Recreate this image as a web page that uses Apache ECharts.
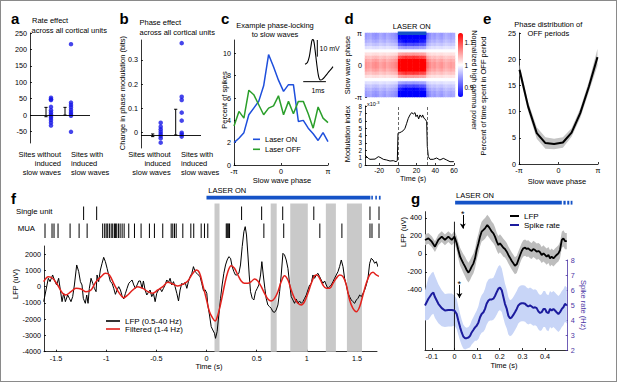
<!DOCTYPE html>
<html><head><meta charset="utf-8"><title>chart</title>
<script src="https://cdn.jsdelivr.net/npm/echarts@6.0.0/dist/echarts.min.js"></script>
<style>
html,body{margin:0;padding:0;background:#fff;overflow:hidden}
#chart{position:absolute;left:0;top:0;width:617px;height:382px}
#frame{position:absolute;left:0;top:0;width:617px;height:382px;box-sizing:border-box;border:1px solid #8a8a8a;pointer-events:none}
</style></head><body>
<div id="chart"></div><div id="frame"></div>
<script>
const FONT = '"Liberation Sans", Arial, Helvetica, sans-serif';
const PI = Math.PI;

// ---------- panel a : rate effect ----------
const aGroup1 = [53, 48, 46, 25, 15, 8, 2, -3, -8, -15, -23, -32];
const aGroup2 = [216, 38, 31, 24, 16, 9, 3, -2, -51];
const aErr = [[-5, 23.5], [0, 23.5]];
const aTicks = [-50, 0, 50, 100, 150, 200, 250];
const aRef = 0;

// ---------- panel b : phase effect ----------
const bGroup1 = [0.040, 0.024, 0.013, 0.003, -0.006, -0.014, -0.024, -0.042];
const bGroup2 = [0.369, 0.148, 0.134, 0.082, 0.049, -0.001, -0.008, -0.017];
const bErr = [[-0.017, -0.006], [-0.01, 0.096]];
const bTicks = [0, 0.1, 0.2, 0.3];
const bRef = -0.01;

// ---------- panel c : phase locking ----------
const cPhase = [-3.14,-2.81,-2.48,-2.15,-1.82,-1.49,-1.16,-0.83,-0.50,-0.17,0.17,0.50,0.83,1.16,1.49,1.82,2.15,2.48,2.81,3.14];
const cLaserOn  = [2.0, 2.4, 2.9, 4.5, 5.1, 5.7, 7.1, 9.9, 8.8, 7.6, 6.6, 7.2, 7.2, 3.9, 4.0, 3.3, 2.8, 2.2, 2.9, 2.1];
const cLaserOff = [3.5, 4.8, 4.2, 6.7, 6.3, 5.4, 4.5, 5.1, 5.3, 6.2, 4.5, 5.7, 4.6, 5.7, 5.7, 4.6, 3.3, 5.2, 4.2, 3.8];
const cTicksY = [0, 2, 4, 6, 8, 10];
const spikeWave = [[0.09,0.2],[0.2,1.5],[0.28,5],[0.35,11],[0.42,15],[0.47,14.5],[0.53,9],[0.6,1],[0.66,-5],[0.72,-8.5],[0.78,-9.2],[0.85,-8.8],[0.95,-7.5],[1.05,-5.8],[1.15,-4],[1.25,-2.5],[1.32,-1.2]];
const scaleBarMV = [[0.63,14.8],[0.63,4.8]];   // 10 mV
const scaleBarMS = [[0.01,-10.2],[1.01,-10.2]]; // 1 ms

// ---------- panel d : heatmap + modulation index ----------
const heatAmp = [0.06,0.055,0.05,0.06,0.065,0.06,0.05,0.055,0.06,0.05,0.055,0.06,0.065,0.07,
                 0.16,0.17,0.18,0.19,0.18,0.18,0.19,0.18,0.18,0.17,0.17,0.16,
                 0.08,0.065,0.055,0.06,0.05,0.055,0.06,0.05,0.045,0.05,0.055,0.05];
const phaseProfile = [-0.95,-0.9,-0.75,-0.55,-0.3,-0.02,0.3,0.6,0.85,1.0,1.0,0.85,0.6,0.3,-0.02,-0.3,-0.55,-0.75,-0.9,-0.95];
const dModIndex = [[-35,1.36],[-31.4,0.9],[-29.7,0.77],[-24.3,0.8],[-20.8,1.13],[-19,1.04],[-15.4,0.77],[-11.9,0.68],[-8.3,0.54],[-4.8,0.59],[-1.9,0.45],[-0.5,0.6],[0.2,4.3],[2.3,4.39],[4.1,4.52],[5.9,4.66],[7.7,4.98],[9.5,5.66],[11.2,6.33],[13.0,6.79],[14.8,7.1],[16.6,6.92],[18.4,7.1],[19.4,6.56],[20.8,6.79],[22.3,6.25],[23.7,6.79],[25.5,6.47],[26.5,6.79],[28.0,6.33],[29.4,6.2],[30.8,5.88],[31.5,2.49],[32.6,1.13],[34.4,0.77],[37.9,0.77],[41.5,0.95],[45.0,0.68],[48.6,0.9],[52.2,0.68],[55.7,0.45],[59.3,0.45],[60,0.5]];
const dLaserMarks = [0, 31];
const dLaser = [[0, 30.5]];
const dTicksX = [-20, 0, 20, 40, 60];
const dTicksY = [0,1,2,3,4,5,6,7,8];
const colorTicks = [0.9, 1, 1.1];

// ---------- panel e : OFF period phase distribution ----------
const eData = [[-3.1,18.0,1.0],[-2.42,11.0,0.9],[-1.73,5.9,1.1],[-1.04,4.0,1.1],[-0.35,3.8,1.0],[0.35,4.1,1.0],[1.04,6.0,0.8],[1.73,9.7,0.9],[2.42,14.8,1.0],[3.1,20.4,1.6]];
const eTicksY = [0, 5, 10, 15, 20, 25];

// ---------- panel f : example trace ----------
const fLfp = [[-1.623,-923],[-1.600,-205],[-1.577,513],[-1.560,308],[-1.534,718],[-1.510,308],[-1.494,103],[-1.474,513],[-1.457,-205],[-1.440,-923],[-1.424,-410],[-1.407,-923],[-1.384,-513],[-1.367,-718],[-1.351,-923],[-1.334,-615],[-1.317,103],[-1.294,1333],[-1.274,923],[-1.257,308],[-1.241,103],[-1.228,-718],[-1.208,-1025],[-1.194,-513],[-1.181,-1025],[-1.168,-103],[-1.151,513],[-1.134,205],[-1.118,-103],[-1.101,-308],[-1.091,718],[-1.075,308],[-1.058,1025],[-1.041,1435],[-1.025,1804],[-1.008,1538],[-0.991,1128],[-0.975,718],[-0.958,308],[-0.941,205],[-0.925,-103],[-0.908,-472],[-0.892,-205],[-0.875,0],[-0.858,-205],[-0.842,-554],[-0.825,-759],[-0.808,-410],[-0.792,-103],[-0.775,205],[-0.758,308],[-0.742,410],[-0.725,103],[-0.709,-103],[-0.692,103],[-0.675,349],[-0.659,349],[-0.642,-103],[-0.629,349],[-0.612,-205],[-0.595,-513],[-0.579,-349],[-0.562,-205],[-0.546,-615],[-0.529,-410],[-0.512,-923],[-0.496,-410],[-0.479,-205],[-0.462,-103],[-0.446,-308],[-0.429,-103],[-0.413,103],[-0.396,410],[-0.379,267],[-0.363,513],[-0.346,103],[-0.329,308],[-0.313,0],[-0.296,-410],[-0.279,-882],[-0.263,-205],[-0.246,205],[-0.230,103],[-0.213,267],[-0.196,-103],[-0.180,308],[-0.163,615],[-0.146,820],[-0.130,1230],[-0.113,923],[-0.096,820],[-0.080,718],[-0.063,600],[-0.047,200],[-0.030,-250],[-0.013,-200],[0.003,-410],[0.013,-1128],[0.030,-1743],[0.047,-2460],[0.063,-2665],[0.080,-2870],[0.090,-3178],[0.106,-2768],[0.123,-1743],[0.140,-718],[0.156,103],[0.173,820],[0.190,1333],[0.206,1640],[0.223,1845],[0.240,1743],[0.256,1230],[0.273,923],[0.289,718],[0.306,718],[0.323,820],[0.339,1333],[0.356,2460],[0.373,3383],[0.386,3690],[0.399,3178],[0.413,1948],[0.426,718],[0.439,-308],[0.456,-718],[0.472,-820],[0.489,-308],[0.506,-103],[0.522,103],[0.539,718],[0.552,1538],[0.566,718],[0.582,-103],[0.595,-718],[0.612,-1128],[0.629,-1230],[0.645,-1333],[0.662,-1538],[0.679,-1579],[0.695,-1435],[0.712,-1128],[0.729,-308],[0.745,718],[0.762,2050],[0.778,1948],[0.795,1640],[0.812,1128],[0.828,205],[0.845,-615],[0.862,-820],[0.878,-1025],[0.895,-759],[0.912,-1025],[0.928,-882],[0.945,-1025],[0.961,-923],[0.978,-718],[0.995,-513],[1.011,-205],[1.028,103],[1.045,205],[1.061,718],[1.078,513],[1.094,718],[1.111,820],[1.128,615],[1.144,410],[1.161,205],[1.178,349],[1.194,103],[1.211,-103],[1.228,0],[1.244,103],[1.261,308],[1.277,513],[1.294,718],[1.311,923],[1.327,1230],[1.344,1640],[1.361,1230],[1.377,513],[1.394,103],[1.411,-410],[1.427,-615],[1.444,-820],[1.460,-923],[1.477,-1025],[1.494,-820],[1.510,-718],[1.527,-513],[1.544,-615],[1.560,-410],[1.577,-205],[1.593,103],[1.610,513],[1.627,1435],[1.643,1743],[1.660,1640],[1.677,1435],[1.693,1538],[1.710,1230],[1.727,1435],[1.743,1128],[1.760,923],[1.770,718]];
const fFiltered = [[-1.623,308],[-1.577,615],[-1.534,513],[-1.484,103],[-1.434,-410],[-1.401,-513],[-1.351,-308],[-1.301,-103],[-1.251,-144],[-1.201,-308],[-1.151,-205],[-1.101,308],[-1.051,615],[-1.008,820],[-0.968,718],[-0.918,103],[-0.868,-410],[-0.825,-677],[-0.785,-513],[-0.735,-205],[-0.685,0],[-0.635,-103],[-0.585,-308],[-0.536,-410],[-0.486,-205],[-0.436,0],[-0.386,267],[-0.336,164],[-0.286,41],[-0.236,144],[-0.186,349],[-0.136,820],[-0.103,1025],[-0.070,850],[-0.037,103],[-0.003,-718],[0.030,-1538],[0.063,-1948],[0.086,-2112],[0.113,-1743],[0.146,-923],[0.180,103],[0.213,923],[0.246,1292],[0.279,1128],[0.313,718],[0.346,349],[0.379,205],[0.413,205],[0.446,308],[0.479,472],[0.512,349],[0.546,0],[0.579,-410],[0.612,-759],[0.645,-882],[0.679,-718],[0.712,-308],[0.745,308],[0.778,677],[0.812,410],[0.845,-205],[0.878,-718],[0.912,-1025],[0.945,-1128],[0.978,-923],[1.011,-410],[1.045,205],[1.078,677],[1.101,718],[1.128,513],[1.161,103],[1.194,-103],[1.228,-103],[1.261,205],[1.294,513],[1.327,718],[1.361,615],[1.394,103],[1.427,-820],[1.460,-1333],[1.494,-1538],[1.527,-1230],[1.560,-513],[1.593,205],[1.627,718],[1.660,882],[1.693,718],[1.727,615],[1.760,472]];
const fSingleUnit = [-1.225,-1.095,0.35,0.55,0.76,1.07,1.63,1.72];
const fMUA = [-1.61,-1.54,-1.52,-1.48,-1.36,-1.27,-1.19,-1.035,-1.015,-1.0,-0.985,-0.968,-0.95,-0.935,-0.918,-0.908,-0.895,-0.878,-0.861,-0.841,-0.821,-0.775,-0.718,-0.652,-0.569,-0.519,-0.436,-0.352,-0.336,-0.319,-0.302,-0.236,-0.156,-0.127,-0.053,-0.02,0.013,0.197,0.205,0.213,0.222,0.23,0.572,0.77,1.13,1.35,1.63,1.65,1.72];
const fOffPeriods = [[0.08,0.13],[0.64,0.70],[0.835,1.01],[1.19,1.29],[1.40,1.55]];
const fLaser = [[0,1.634],[1.643,1.659],[1.683,1.699],[1.719,1.736]];
const fTicksX = [-1.5,-1,-0.5,0,0.5,1,1.5];
const fTicksY = [-4000,-3000,-2000,-1000,0,1000,2000];

// ---------- panel g : laser-onset average ----------
const gLfp = [[-0.130,156,60],[-0.115,174,60],[-0.100,137,60],[-0.086,81,60],[-0.071,156,60],[-0.056,193,60],[-0.042,156,60],[-0.027,193,60],[-0.012,156,60],[0.000,193,65],
[0.010,119,80],[0.017,44,90],[0.025,-30,100],[0.032,-67,100],[0.039,-104,105],[0.047,-141,110],[0.054,-178,110],[0.062,-207,110],[0.069,-178,110],[0.076,-141,110],[0.084,-104,110],[0.091,-48,110],[0.098,44,110],[0.106,119,110],[0.113,193,110],[0.120,248,110],[0.128,267,115],[0.135,285,115],
[0.145,322,115],[0.154,293,115],
[0.165,248,110],[0.172,230,110],[0.179,193,105],[0.187,137,100],[0.194,100,100],[0.201,119,100],[0.209,93,100],[0.216,70,100],[0.223,56,95],[0.231,26,95],[0.238,-11,95],[0.245,-41,95],[0.253,-78,95],[0.260,-104,95],[0.267,-130,95],[0.275,-115,95],[0.282,-67,95],[0.290,-11,90],[0.297,33,90],[0.304,63,90],[0.312,70,90],[0.319,56,90],[0.326,63,90],[0.334,44,90],[0.341,33,90],[0.348,56,90],[0.356,44,90],[0.363,26,90],[0.371,33,90],[0.378,19,90],[0.385,-11,90],[0.393,7,90],[0.400,-11,90],[0.407,-30,90],[0.415,-11,90],[0.422,-48,90],[0.429,-30,90],[0.437,-48,90],[0.444,-30,90],[0.451,-11,90],[0.459,7,90],[0.466,44,90],[0.474,156,90],[0.481,174,90],[0.488,144,90],[0.496,144,90]];
const gSpike = [[-0.130,4.97,1.0],[-0.115,5.42,1.4],[-0.100,5.75,1.4],[-0.093,5.82,1.4],[-0.086,5.53,1.4],[-0.071,5.08,1.3],[-0.056,4.79,1.2],[-0.042,4.63,1.1],[-0.027,4.67,1.1],[-0.012,4.67,1.1],[0.000,4.63,1.0],
[0.010,4.40,1.0],[0.017,3.96,0.95],[0.025,3.51,0.9],[0.032,3.17,0.85],[0.039,2.90,0.8],[0.047,2.79,0.75],[0.054,2.79,0.7],[0.062,2.83,0.7],[0.069,2.94,0.75],[0.076,3.17,0.8],[0.084,3.35,0.85],[0.091,3.51,0.9],[0.098,3.62,1.0],[0.106,3.84,1.1],[0.113,4.18,1.2],[0.120,4.40,1.25],[0.128,4.52,1.3],[0.135,4.74,1.35],[0.142,5.08,1.4],[0.150,5.30,1.4],[0.157,5.37,1.4],[0.165,5.37,1.4],[0.172,5.42,1.4],[0.179,5.60,1.45],[0.187,5.87,1.5],[0.194,6.09,1.5],[0.201,6.16,1.5],[0.209,5.98,1.45],[0.216,5.53,1.4],[0.223,5.08,1.35],[0.231,4.74,1.3],[0.238,4.29,1.25],[0.245,4.11,1.2],[0.253,4.18,1.2],[0.260,4.34,1.2],[0.267,4.52,1.2],[0.275,4.74,1.2],[0.282,4.97,1.2],[0.290,5.08,1.2],[0.297,5.12,1.2],[0.304,5.12,1.2],[0.312,5.08,1.2],[0.319,4.97,1.2],[0.326,4.90,1.2],[0.334,4.97,1.2],[0.341,4.90,1.2],[0.348,4.81,1.2],[0.356,4.85,1.2],[0.363,4.79,1.2],[0.371,4.56,1.2],[0.378,4.47,1.2],[0.385,4.52,1.2],[0.393,4.74,1.2],[0.400,4.74,1.2],[0.407,4.52,1.2],[0.415,4.45,1.2],[0.422,4.74,1.2],[0.429,4.63,1.2],[0.437,4.74,1.2],[0.444,4.63,1.2],[0.451,4.52,1.2],[0.459,4.40,1.2],[0.466,4.52,1.2],[0.474,4.74,1.2],[0.481,4.85,1.2],[0.488,5.08,1.2],[0.496,4.97,1.2]];
const gLaser = [[0.003,0.474],[0.481,0.491],[0.498,0.507],[0.513,0.521]];
const gArrowLfp = [[0.037,433],[0.037,282]];
const gArrowRate = [[0.022,-344],[0.022,-490]];
const gOnsetLine = [[0,359],[0,-1067]];
const gTicksX = [-0.1,0,0.1,0.2,0.3,0.4];
const gTicksY = [-400,-200,0,200,400];
const gTicksRate = [2,3,4,5,6,7,8];

// ================= build =================
const chart = echarts.init(document.getElementById('chart'), null, {renderer:'svg', width:617, height:382});
const grids=[], xAxes=[], yAxes=[], series=[], gfx=[];
const BLUEBAR='#1553c7', DOT='#1717e6', PURPLE='#4b35a5';

function grid(l,t,w,h){grids.push({left:l,top:t,width:w,height:h,containLabel:false,outerBoundsMode:'none'});return grids.length-1;}
function axis(dim, gi, min, max, o){
  o=o||{};
  const col=o.color||'#000';
  const a={type:o.type||'value', gridIndex:gi, show:!o.hidden, position:o.position||(dim==='x'?'bottom':'left'),
    axisLine:{show:o.line!==false, onZero:false, lineStyle:{color:col,width:0.8}},
    axisTick:{show:!!o.ticks, inside:true, length:2, lineStyle:{color:col,width:0.8}},
    axisLabel:{show:!!o.ticks, fontSize:o.fs||7.2, color:col, fontFamily:FONT, margin:o.margin!=null?o.margin:3, formatter:o.fmt||(v=>String(v))},
    splitLine:{show:false}, splitArea:{show:false}, axisPointer:{show:false}};
  if(a.type==='value'){a.min=min;a.max=max;}
  if(o.data) a.data=o.data;
  if(o.ticks){a.axisTick.customValues=o.ticks;a.axisLabel.customValues=o.ticks;}
  const arr = dim==='x'?xAxes:yAxes; arr.push(a); return arr.length-1;
}
const piFmt = v => Math.abs(v)<1e-9 ? '0' : (v<0 ? '-π' : 'π');
function T(x,y,text,o){o=o||{};return {type:'text',x:x,y:y,rotation:o.rot||0,silent:true,z:100,
  style:{text:text,fill:o.color||'#000',fontSize:o.fs||7.5,fontFamily:FONT,fontWeight:o.bold?'bold':'normal',align:o.align||'left',verticalAlign:'middle',rich:o.rich}};}

function errRender(params, api){
  const x=api.value(0), p0=api.coord([x,api.value(1)]), p1=api.coord([x,api.value(2)]), c=1.6;
  const st={stroke:'#000', lineWidth:1};
  return {type:'group', children:[
    {type:'line', shape:{x1:p0[0],y1:p0[1],x2:p1[0],y2:p1[1]}, style:st},
    {type:'line', shape:{x1:p0[0]-c,y1:p0[1],x2:p0[0]+c,y2:p0[1]}, style:st},
    {type:'line', shape:{x1:p1[0]-c,y1:p1[1],x2:p1[0]+c,y2:p1[1]}, style:st}]};
}
function spanRender(yTop, yBottom, color){
  return function(params, api){
    const x0=api.coord([api.value(0),0])[0], x1=api.coord([api.value(1),0])[0];
    const cs=params.coordSys; const yb = yBottom==null ? cs.y+cs.height : yBottom;
    return {type:'rect', shape:{x:x0,y:yTop,width:Math.max(x1-x0,0.5),height:yb-yTop}, style:{fill:color}};
  };
}
function tickRender(y0,y1){
  return function(params, api){
    const x=api.coord([api.value(0),0])[0];
    return {type:'line', shape:{x1:x,y1:y0,x2:x,y2:y1}, style:{stroke:'#000', lineWidth:1}};
  };
}
// shaded mean +/- sem band drawn as one polygon through the axes' scales
function bandS(xi, yi, rows, color){
  return {type:'custom', xAxisIndex:xi, yAxisIndex:yi, data:rows, encode:{x:0,y:1}, clip:false, silent:true, animation:false, z:1,
    renderItem:function(params, api){
      if(params.dataIndex!==0) return null;
      const up = rows.map(r=>api.coord([r[0], r[1]+r[2]]));
      const lo = rows.map(r=>api.coord([r[0], r[1]-r[2]])).reverse();
      return {type:'polygon', shape:{points:up.concat(lo)}, style:{fill:color}};
    }};
}
function lineS(xi, yi, data, color, width, extra){
  return Object.assign({type:'line', xAxisIndex:xi, yAxisIndex:yi, data:data, color:color, showSymbol:false, symbol:'none',
    lineStyle:{color:color, width:width}, animation:false, silent:true, z:3}, extra||{});
}
const refLine = v => ({silent:true, animation:false, symbol:['none','none'], label:{show:false}, lineStyle:{color:'#000', width:0.9, type:'solid'}, data:[{yAxis:v}]});

// ---- a ----
const gA = grid(30,33,60,110);
const xA = axis('x', gA, 0, 60, {hidden:true});
const yA = axis('y', gA, -85, 250, {ticks:aTicks});
series.push({type:'scatter', xAxisIndex:xA, yAxisIndex:yA, symbolSize:4.5, itemStyle:{color:DOT}, silent:true, animation:false, z:3,
  data: aGroup1.map(v=>[21,v]).concat(aGroup2.map(v=>[41,v])), markLine: refLine(aRef)});
series.push({type:'custom', xAxisIndex:xA, yAxisIndex:yA, renderItem:errRender, clip:false, silent:true, animation:false, z:4,
  data:[[16,aErr[0][0],aErr[0][1]],[35,aErr[1][0],aErr[1][1]]]});

// ---- b ----
const gB = grid(141,40,60,108);
const xB = axis('x', gB, 0, 60, {hidden:true});
const yB = axis('y', gB, -0.064, 0.382, {ticks:bTicks});
series.push({type:'scatter', xAxisIndex:xB, yAxisIndex:yB, symbolSize:4.5, itemStyle:{color:DOT}, silent:true, animation:false, z:3,
  data: bGroup1.map(v=>[19.7,v]).concat(bGroup2.map(v=>[40.7,v])), markLine: refLine(bRef)});
series.push({type:'custom', xAxisIndex:xB, yAxisIndex:yB, renderItem:errRender, clip:false, silent:true, animation:false, z:4,
  data:[[11.7,bErr[0][0],bErr[0][1]],[34.7,bErr[1][0],bErr[1][1]]]});

// ---- c ----
const gC = grid(234,40,94,125);
const xC = axis('x', gC, -PI, PI, {ticks:[-PI,0,PI], fmt:piFmt});
const yC = axis('y', gC, 0, 11.2, {ticks:cTicksY});
series.push(lineS(xC, yC, cPhase.map((p,i)=>[p,cLaserOn[i]]), '#1e4fdc', 1.5, {name:'Laser ON'}));
series.push(lineS(xC, yC, cPhase.map((p,i)=>[p,cLaserOff[i]]), '#2b9f2b', 1.5, {name:'Laser OFF'}));
const gCi = grid(303,38,31,45);
const xCi = axis('x', gCi, 0, 1.366, {hidden:true});
const yCi = axis('y', gCi, -11, 16, {hidden:true});
series.push(lineS(xCi, yCi, spikeWave, '#000', 1.1, {smooth:0.4, clip:false}));
series.push(lineS(xCi, yCi, scaleBarMV, '#000', 1, {clip:false}));
series.push(lineS(xCi, yCi, scaleBarMS, '#000', 1, {clip:false}));

// ---- d ----
const gDh = grid(365,33,90,64);
const xDh = axis('x', gDh, null, null, {type:'category', hidden:true, data:heatAmp.map((_,i)=>String(i))});
const yDh = axis('y', gDh, null, null, {type:'category', hidden:true, data:phaseProfile.map((_,i)=>String(i))});
const yDhv = axis('y', gDh, -PI, PI, {ticks:[-PI,0,PI], fmt:piFmt, line:false});
const heatData = [];
heatAmp.forEach((a,i)=>phaseProfile.forEach((p,j)=>heatData.push([i,j,1+a*p])));
const heatIdx = series.length;
series.push({type:'heatmap', xAxisIndex:xDh, yAxisIndex:yDh, data:heatData, silent:true, animation:false, progressive:0, itemStyle:{borderWidth:0}, emphasis:{disabled:true}, z:1});
const gDc = grid(458,33,5,64);
axis('x', gDc, 0, 1, {hidden:true});
axis('y', gDc, 0.86, 1.14, {ticks:colorTicks, line:false, position:'right', margin:1.5, fs:6.5});
const gDl = grid(365,106,89,59);
const xDl = axis('x', gDl, -35, 60, {ticks:dTicksX, fs:6.8, margin:2});
const yDl = axis('y', gDl, 0, 8, {ticks:dTicksY, fs:6.3});
series.push(lineS(xDl, yDl, dModIndex, '#000', 1, {markLine:{silent:true, animation:false, symbol:['none','none'], label:{show:false},
  lineStyle:{color:'#444', width:0.8, type:[3,2]}, data:dLaserMarks.map(v=>({xAxis:v}))}}));
const gDb = grid(365,30,89,6);
const xDb = axis('x', gDb, -35, 60, {hidden:true});
const yDb = axis('y', gDb, 0, 1, {hidden:true});
series.push({type:'custom', xAxisIndex:xDb, yAxisIndex:yDb, renderItem:spanRender(31.5,35,BLUEBAR), clip:false, silent:true, animation:false, z:5, data:dLaser});

// ---- e ----
const gE = grid(519,33,79,131);
const xE = axis('x', gE, -PI, PI, {ticks:[-PI,0,PI], fmt:piFmt});
const yE = axis('y', gE, 0, 25, {ticks:eTicksY});
series.push(bandS(xE, yE, eData, '#c4c4c4'));
series.push(lineS(xE, yE, eData.map(r=>[r[0],r[1]]), '#000', 2));

// ---- f ----
const gFo = grid(44,190,333,161.7);
const xFo = axis('x', gFo, -1.62, 1.7, {hidden:true});
const yFo = axis('y', gFo, 0, 1, {hidden:true});
series.push({type:'custom', xAxisIndex:xFo, yAxisIndex:yFo, renderItem:spanRender(203.5,null,'#c9c9c9'), clip:false, silent:true, animation:false, z:1, data:fOffPeriods});
series.push({type:'custom', xAxisIndex:xFo, yAxisIndex:yFo, renderItem:spanRender(195.8,199.6,BLUEBAR), clip:false, silent:true, animation:false, z:5, data:fLaser});
series.push({type:'custom', xAxisIndex:xFo, yAxisIndex:yFo, renderItem:tickRender(206.5,220), clip:false, silent:true, animation:false, z:4, data:fSingleUnit.map(t=>[t,0])});
series.push({type:'custom', xAxisIndex:xFo, yAxisIndex:yFo, renderItem:tickRender(223.5,238), clip:false, silent:true, animation:false, z:4, data:fMUA.map(t=>[t,0])});
const gF = grid(44,246,333,105.7);
const xF = axis('x', gF, -1.62, 1.7, {ticks:fTicksX});
const yF = axis('y', gF, -4000, 2500, {ticks:fTicksY});
series.push(lineS(xF, yF, fLfp, '#000', 1, {name:'LFP (0.5-40 Hz)', clip:false}));
series.push(lineS(xF, yF, fFiltered, '#e3211c', 1.5, {name:'Filtered (1-4 Hz)', smooth:0.35, clip:false}));

// ---- g ----
const gGo = grid(425,195,142.7,155);
const xGo = axis('x', gGo, -0.13, 0.5, {hidden:true});
const yGo = axis('y', gGo, 0, 1, {hidden:true});
series.push({type:'custom', xAxisIndex:xGo, yAxisIndex:yGo, renderItem:spanRender(200.8,204.6,BLUEBAR), clip:false, silent:true, animation:false, z:5, data:gLaser});
const gG = grid(425,211.7,142.7,138.3);
const xG = axis('x', gG, -0.13, 0.5, {ticks:gTicksX});
const yG = axis('y', gG, -1067, 470, {ticks:gTicksY});
series.push(bandS(xG, yG, gLfp, '#bdbdbd'));
series.push(lineS(xG, yG, gOnsetLine, '#000', 0.9, {z:2}));
series.push(lineS(xG, yG, gLfp.map(r=>[r[0],r[1]]), '#000', 1.8, {name:'LFP',
  markLine:{silent:true, animation:false, symbol:['none','arrow'], symbolSize:[4.5,5], label:{show:false}, lineStyle:{color:'#000', width:1, type:'solid'},
    data:[[{coord:gArrowLfp[0]},{coord:gArrowLfp[1]}],[{coord:gArrowRate[0]},{coord:gArrowRate[1]}]]}}));
const gGs = grid(425,260,142.7,90);
const xGs = axis('x', gGs, -0.13, 0.5, {hidden:true});
const yGs = axis('y', gGs, 2, 8, {ticks:gTicksRate, position:'right', color:PURPLE});
series.push(bandS(xGs, yGs, gSpike, '#c8d5f7'));
series.push(lineS(xGs, yGs, gSpike.map(r=>[r[0],r[1]]), '#1c1c9e', 2, {name:'Spike rate'}));

// ---- texts ----
const L = 15;
gfx.push(T(11,18.2,'a',{bold:true,fs:L}), T(119.5,18.8,'b',{bold:true,fs:L}), T(221,18.2,'c',{bold:true,fs:L}),
  T(344.5,18.8,'d',{bold:true,fs:L}), T(483,18.8,'e',{bold:true,fs:L}), T(11,198.2,'f',{bold:true,fs:L}), T(411,198.3,'g',{bold:true,fs:L}));
gfx.push(T(32,20.7,'Rate effect'), T(31.5,30,'across all cortical units'));
gfx.push(T(61,154,'Sites without',{align:'right'}), T(61,163.3,'induced',{align:'right'}), T(61,172.7,'slow waves',{align:'right'}));
gfx.push(T(71,154,'Sites with'), T(71,163.3,'induced'), T(71,172.7,'slow waves'));
gfx.push(T(139.5,22.7,'Phase effect'), T(139.5,32.5,'across all cortical units'));
gfx.push(T(170.7,154,'Sites without',{align:'right'}), T(170.7,163.3,'induced',{align:'right'}), T(170.7,172.7,'slow waves',{align:'right'}));
gfx.push(T(181,154,'Sites with'), T(181,163.3,'induced'), T(181,172.7,'slow waves'));
gfx.push(T(122.7,93,'Change in phase modulation (bits)',{rot:PI/2,align:'center'}));
gfx.push(T(275,25,'Example phase-locking',{align:'center'}), T(275,34.3,'to slow waves',{align:'center'}));
gfx.push(T(224.5,100,'Percent of spikes',{rot:PI/2,align:'center'}), T(282,180,'Slow wave phase',{align:'center'}));
gfx.push(T(319.5,48.3,'10 mV',{fs:7}), T(318,90,'1ms',{fs:7,align:'center'}));
gfx.push(T(411.7,26.7,'LASER ON',{align:'center'}));
gfx.push(T(347,65,'Slow wave phase',{rot:PI/2,align:'center'}), T(347,134,'Modulation index',{rot:PI/2,align:'center'}));
gfx.push(T(413,178.8,'Time (s)',{align:'center',fs:7.2}), T(474.5,80,'Normalized high gamma power',{rot:-PI/2,align:'center',fs:7.2}));
gfx.push(T(367,104,'{a|x10}{b|-3}',{rich:{a:{fontSize:5.5,fontFamily:FONT},b:{fontSize:4,fontFamily:FONT,padding:[0,0,4,0]}}}));
gfx.push(T(548.3,24,'Phase distribution of',{align:'center'}), T(548.3,33.3,'OFF periods',{align:'center'}));
gfx.push(T(483.5,96,'Percent of time spent in OFF period',{rot:PI/2,align:'center'}), T(557,181.5,'Slow wave phase',{align:'center'}));
gfx.push(T(16,211.7,'Single unit',{fs:7.8}), T(17.7,228.3,'MUA',{fs:7.8}), T(208.3,190.7,'LASER ON'));
gfx.push(T(15,284,'LFP (uV)',{rot:PI/2,align:'center'}), T(209,366,'Time (s)',{align:'center'}));
gfx.push(T(456,195.3,'LASER ON'), T(403.5,232,'LFP (uV)',{rot:PI/2,align:'center'}), T(504,365.7,'Time (s)',{align:'center'}));
gfx.push(T(583,305,'Spike rate (Hz)',{rot:-PI/2,align:'center',color:PURPLE}));
gfx.push(T(462.7,213.5,'*',{fs:9,align:'center'}), T(459.3,283.5,'*',{fs:9,align:'center'}));

const legendBase = {orient:'vertical', icon:'rect', padding:0, selectedMode:false, itemGap:0};
chart.setOption({
  animation:false,
  backgroundColor:'#fff',
  textStyle:{fontFamily:FONT},
  grid:grids, xAxis:xAxes, yAxis:yAxes, series:series,
  visualMap:{type:'continuous', min:0.86, max:1.14, seriesIndex:heatIdx, left:458, top:33, itemWidth:5, itemHeight:64, padding:0,
    calculable:false, hoverLink:false, inRange:{color:['#0000ff','#ffffff','#ff0000']}},
  legend:[
    Object.assign({}, legendBase, {data:['Laser ON','Laser OFF'], left:253, top:134.3, itemWidth:7, itemHeight:1.6, textStyle:{fontSize:7.5, fontFamily:FONT, color:'#000', lineHeight:10}}),
    Object.assign({}, legendBase, {data:['LFP (0.5-40 Hz)','Filtered (1-4 Hz)'], left:106, top:317, itemWidth:14, itemHeight:1.6, textStyle:{fontSize:8, fontFamily:FONT, color:'#000', lineHeight:8}}),
    Object.assign({}, legendBase, {data:['LFP','Spike rate'], left:510, top:211.5, itemWidth:9, itemHeight:2, textStyle:{fontSize:8, fontFamily:FONT, color:'#000', lineHeight:9}})
  ],
  graphic:{elements:gfx}
});
</script></body></html>
